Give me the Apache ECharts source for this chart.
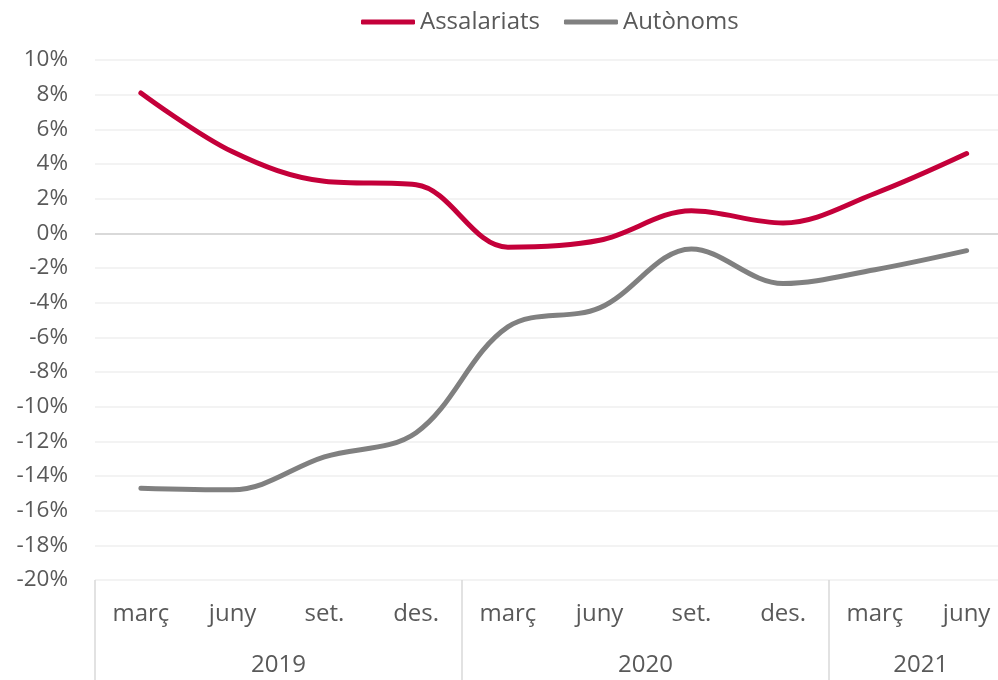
<!DOCTYPE html>
<html>
<head>
<meta charset="utf-8">
<script src="https://cdn.jsdelivr.net/npm/echarts@6/dist/echarts.min.js"></script>
<style>
  html, body { margin: 0; padding: 0; background: #fff; }
  #chart { width: 998px; height: 680px; }
</style>
</head>
<body>
<div id="chart"></div>
<script>
const months = ['març', 'juny', 'set.', 'des.', 'març', 'juny', 'set.', 'des.', 'març', 'juny']
const years = ['2019', '2020', '2021']
const yearSpans = [4, 4, 2]
const assalariats = [8.1, 4.7, 3.0, 2.8, -0.8, -0.4, 1.3, 0.6, 2.3, 4.6]
const autonoms = [-14.7, -14.8, -12.9, -11.5, -5.4, -4.3, -0.9, -2.9, -2.1, -1.0]

const textColor = '#595959'
const font = '"Open Sans", "Noto Sans", sans-serif'

// year row: half-step slots, label in the middle of each group, divider at group edges
const yearSlots = []
const dividerSlots = new Set([0])
let pos = 0
for (let i = 0; i <= months.length * 2; i++) yearSlots.push('')
years.forEach((y, i) => {
  yearSlots[pos + yearSpans[i]] = y
  pos += yearSpans[i] * 2
  dividerSlots.add(pos)
})

const chart = echarts.init(document.getElementById('chart'))

chart.setOption({
  backgroundColor: '#fff',
  textStyle: { fontFamily: font },
  legend: {
    top: 5,
    left: 356,
    itemWidth: 54,
    itemHeight: 5,
    itemGap: 24,
    icon: 'roundRect',
    textStyle: { color: textColor, fontSize: 24, fontFamily: font },
    data: ['Assalariats', 'Autònoms'],
  },
  grid: { left: 95, width: 917.5, top: 60, bottom: 100, outerBoundsMode: 'none' },
  xAxis: [
    {
      type: 'category',
      data: months,
      boundaryGap: true,
      axisLine: { show: false },
      axisTick: { show: false },
      axisLabel: { color: textColor, fontSize: 24, margin: 22, fontFamily: font },
    },
    {
      type: 'category',
      data: yearSlots,
      position: 'bottom',
      offset: 0,
      boundaryGap: false,
      axisLine: { show: false },
      axisTick: {
        show: true,
        length: 100,
        interval: (idx) => dividerSlots.has(idx),
        lineStyle: { color: '#d9d9d9', width: 1.5 },
      },
      axisLabel: {
        interval: 0,
        color: textColor,
        fontSize: 24,
        margin: 73,
        fontFamily: font,
      },
    },
  ],
  yAxis: {
    type: 'value',
    min: -20,
    max: 10,
    interval: 2,
    axisLine: { show: false },
    axisTick: { show: false },
    axisLabel: {
      color: textColor,
      fontSize: 22.5,
      margin: 27,
      fontFamily: font,
      formatter: '{value}%',
    },
    splitLine: { lineStyle: { color: '#efefef', width: 1.5 } },
  },
  series: [
    {
      name: 'Assalariats',
      type: 'line',
      data: assalariats,
      smooth: 0.35,
      symbol: 'none',
      color: '#c4003a',
      lineStyle: { width: 5, cap: 'round', join: 'round' },
      z: 3,
      markLine: {
        silent: true,
        symbol: 'none',
        label: { show: false },
        lineStyle: { color: '#d9d9d9', width: 2, type: 'solid' },
        data: [{ yAxis: 0 }],
        z: 1,
      },
    },
    {
      name: 'Autònoms',
      type: 'line',
      data: autonoms,
      smooth: 0.35,
      symbol: 'none',
      color: '#808080',
      lineStyle: { width: 5, cap: 'round', join: 'round' },
      z: 3,
    },
  ],
})
</script>
</body>
</html>
